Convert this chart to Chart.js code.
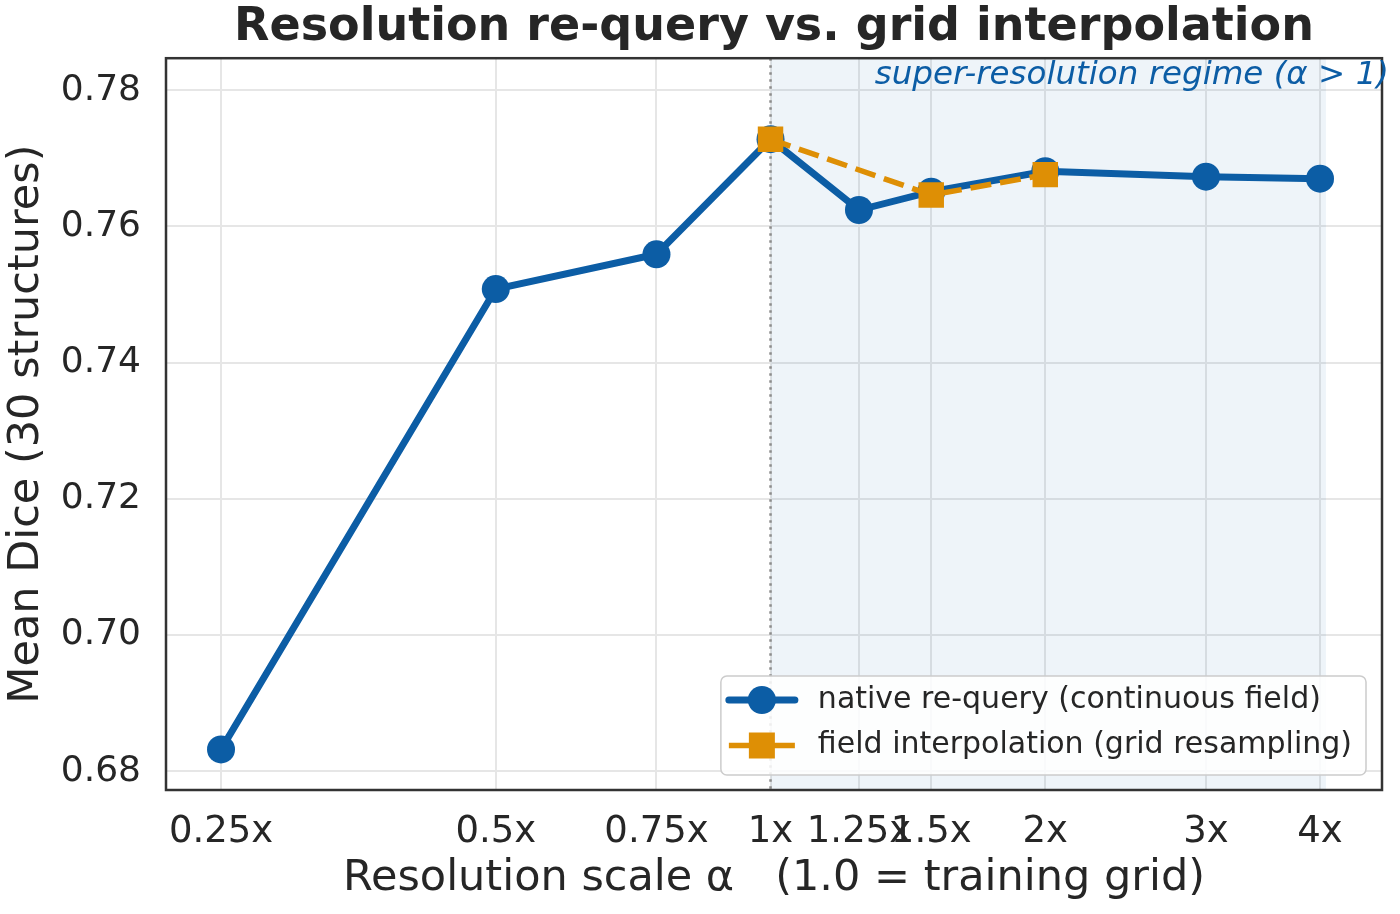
<!DOCTYPE html>
<html>
<head>
<meta charset="utf-8">
<script src="https://cdn.jsdelivr.net/npm/chart.js@4.4.1/dist/chart.umd.min.js"></script>
<style>
  html, body { margin: 0; padding: 0; background: #fff; }
  .chart-wrap { width: 1400px; height: 914px; }
</style>
</head>
<body>
<div class="chart-wrap"><canvas id="diceChart"></canvas></div>
<script>
const scaleLabels = ["0.25x", "0.5x", "0.75x", "1x", "1.25x", "1.5x", "2x", "3x", "4x"];
const scaleValues = [0.25, 0.5, 0.75, 1, 1.25, 1.5, 2, 3, 4];
const nativeDice = [0.6832, 0.7508, 0.7559, 0.7728, 0.7624, 0.7651, 0.7681, 0.7673, 0.7670];
const interpScales = [1, 1.5, 2];
const interpDice = [0.7728, 0.7646, 0.7676];
const yTicks = [0.68, 0.70, 0.72, 0.74, 0.76, 0.78];
const regimeSpan = [1, 4.06];

const BLUE = "#0C5DA5";
const ORANGE = "#DE8F05";
const TEXT = "#262626";
const FONT = "'DejaVu Sans', 'Liberation Sans', sans-serif";

Chart.defaults.font.family = FONT;
Chart.defaults.color = TEXT;

// shaded super-resolution region, reference line, frame, note and legend
const regimePlugin = {
    id: "regime",
    beforeDatasetsDraw(chart) {
        const { ctx, chartArea: a, scales: { x } } = chart;
        const x0 = x.getPixelForValue(regimeSpan[0]);
        const x1 = x.getPixelForValue(regimeSpan[1]);
        ctx.save();
        ctx.fillStyle = "rgba(12, 93, 165, 0.07)";
        ctx.fillRect(x0, a.top, x1 - x0, a.bottom - a.top);
        ctx.strokeStyle = "#8c8c8c";
        ctx.lineWidth = 2.5;
        ctx.setLineDash([2.5, 4.5]);
        ctx.beginPath();
        ctx.moveTo(x0, a.top);
        ctx.lineTo(x0, a.bottom);
        ctx.stroke();
        ctx.restore();
    },
    afterDraw(chart) {
        const { ctx, chartArea: a } = chart;
        ctx.save();
        // frame
        ctx.strokeStyle = "#333333";
        ctx.lineWidth = 2.5;
        ctx.strokeRect(a.left, a.top, a.right - a.left, a.bottom - a.top);

        // note
        ctx.font = "italic 32.5px " + FONT;
        ctx.fillStyle = BLUE;
        ctx.textAlign = "right";
        ctx.textBaseline = "alphabetic";
        ctx.fillText("super-resolution regime (\u03b1 > 1)", a.right + 7, a.top + 26);

        // legend
        const sets = chart.data.datasets;
        ctx.font = "30px " + FONT;
        const textW = Math.max(...sets.map(d => ctx.measureText(d.label).width));
        const w = textW + 111, h = 99;
        const bx = a.right - 16 - w, by = a.bottom - 15 - h;
        ctx.beginPath();
        ctx.roundRect(bx, by, w, h, 6);
        ctx.fillStyle = "rgba(255,255,255,0.85)";
        ctx.fill();
        ctx.strokeStyle = "#cccccc";
        ctx.lineWidth = 1.5;
        ctx.stroke();
        sets.forEach((d, i) => {
            const cy = by + 24 + i * 45.5;
            const hx0 = bx + 8, hx1 = bx + 74, mx = (hx0 + hx1) / 2;
            ctx.strokeStyle = d.borderColor;
            ctx.lineWidth = d.borderWidth;
            ctx.lineCap = d.pointStyle === "circle" ? "round" : "butt";
            ctx.setLineDash([]);
            ctx.beginPath();
            ctx.moveTo(hx0, cy);
            ctx.lineTo(hx1, cy);
            ctx.stroke();
            ctx.fillStyle = d.borderColor;
            ctx.beginPath();
            if (d.pointStyle === "circle") {
                ctx.arc(mx, cy, 14, 0, Math.PI * 2);
            } else {
                ctx.rect(mx - 13, cy - 13, 26, 26);
            }
            ctx.fill();
            ctx.fillStyle = TEXT;
            ctx.textAlign = "left";
            ctx.textBaseline = "middle";
            ctx.fillText(d.label, bx + 97, cy);
        });
        ctx.restore();
    }
};

const chart = new Chart("diceChart", {
    type: "line",
    data: {
        datasets: [{
            label: "native re-query (continuous field)",
            data: scaleValues.map((v, i) => ({ x: v, y: nativeDice[i] })),
            borderColor: BLUE,
            backgroundColor: BLUE,
            borderWidth: 7,
            pointStyle: "circle",
            pointRadius: 14,
            pointBorderWidth: 0,
            pointBackgroundColor: BLUE,
            tension: 0,
            order: 2
        }, {
            label: "field interpolation (grid resampling)",
            data: interpScales.map((v, i) => ({ x: v, y: interpDice[i] })),
            borderColor: ORANGE,
            backgroundColor: ORANGE,
            borderWidth: 5.5,
            borderDash: [21, 9],
            pointStyle: "rect",
            pointRadius: 18,
            pointBorderWidth: 0,
            pointBackgroundColor: ORANGE,
            tension: 0,
            order: 1
        }]
    },
    options: {
        responsive: true,
        maintainAspectRatio: false,
        animation: false,
        layout: { padding: { left: 0, right: 17, top: 0, bottom: 0 } },
        plugins: {
            legend: { display: false },
            tooltip: { enabled: false },
            title: {
                display: true,
                fullSize: false,
                text: "Resolution re-query vs. grid interpolation",
                font: { size: 46, weight: "bold" },
                color: TEXT,
                padding: { top: 0, bottom: 3 }
            }
        },
        scales: {
            x: {
                type: "logarithmic",
                min: 0.2176,
                max: 4.677,
                afterBuildTicks: s => { s.ticks = scaleValues.map(v => ({ value: v })); },
                afterFit: s => { s.height = 124; },
                ticks: {
                    autoSkip: false,
                    maxRotation: 0,
                    padding: 20,
                    font: { size: 37 },
                    color: TEXT,
                    callback: (v, i) => scaleLabels[i]
                },
                grid: { color: "#e6e6e6", lineWidth: 2, drawTicks: false },
                border: { display: false },
                title: {
                    display: true,
                    text: "Resolution scale \u03b1   (1.0 = training grid)",
                    font: { size: 43 },
                    color: TEXT,
                    padding: { top: 0, bottom: 9 }
                }
            },
            y: {
                min: 0.67725,
                max: 0.78469,
                afterBuildTicks: s => { s.ticks = yTicks.map(v => ({ value: v })); },
                afterFit: s => { s.width = 166; },
                ticks: {
                    padding: 25,
                    font: { size: 36 },
                    color: TEXT,
                    callback: v => v.toFixed(2)
                },
                grid: { color: "#e6e6e6", lineWidth: 2, drawTicks: false },
                border: { display: false },
                title: {
                    display: true,
                    text: "Mean Dice (30 structures)",
                    font: { size: 43 },
                    color: TEXT,
                    padding: { top: 1, bottom: 0 }
                }
            }
        }
    },
    plugins: [regimePlugin]
});
</script>
</body>
</html>
